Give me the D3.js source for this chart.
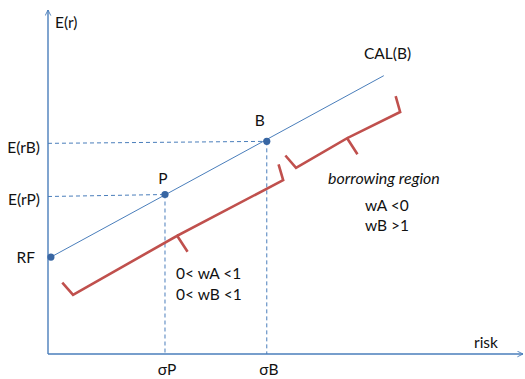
<!DOCTYPE html>
<html>
<head>
<meta charset="utf-8">
<script src="https://cdn.jsdelivr.net/npm/d3@7"></script>
<style>
  body { margin: 0; background: #fff; }
  text { font-family: Lato, "Open Sans", sans-serif; font-size: 15.5px; fill: #111; }
</style>
</head>
<body>
<div id="chart"></div>
<script>
// portfolio points: [risk, expected return]
const riskFree = [0.25, 3.1];
const portP = [10, 5.1];
const portB = [18.7, 6.8];
const calEnd = [28.7, 8.9];
const pointNames = ["RF", "P", "B"];

// bracket corners along the CAL (lending part / borrowing part)
const lendingBracket = [[2.14, 1.89], [20.1, 5.56]];
const borrowingBracket = [[21.2, 5.95], [30.1, 7.74]];

const yTickLabels = ["E(rB)", "E(rP)", "RF"];
const xTickLabels = ["σP", "σB"];

const width = 525, height = 379;
const blue = "#4a7ebb", red = "#c0504d", dot = "#3866a3";

const svg = d3.select("#chart").append("svg")
    .attr("width", width)
    .attr("height", height);

// scales
const x = d3.scaleLinear().domain([0, 40.6]).range([48, 523]);
const y = d3.scaleLinear().domain([0, 11]).range([354, 10]);

// arrow marker
svg.append("defs").append("marker")
    .attr("id", "arr")
    .attr("viewBox", "0 0 10 10")
    .attr("refX", 9).attr("refY", 5)
    .attr("markerWidth", 7).attr("markerHeight", 7)
    .attr("markerUnits", "userSpaceOnUse")
    .attr("orient", "auto")
    .append("path")
    .attr("d", "M1,1 L9,5 L1,9")
    .attr("fill", "none")
    .attr("stroke", blue)
    .attr("stroke-width", 1.3);

// axes
svg.append("line")
    .attr("x1", x(0)).attr("y1", y(0))
    .attr("x2", x(0)).attr("y2", y(11))
    .attr("stroke", blue).attr("stroke-width", 1.4)
    .attr("marker-end", "url(#arr)");
svg.append("line")
    .attr("x1", x(0)).attr("y1", y(0))
    .attr("x2", x(40.6)).attr("y2", y(0))
    .attr("stroke", blue).attr("stroke-width", 1.4)
    .attr("marker-end", "url(#arr)");

// dashed guides
const guides = [portP, portB];
guides.forEach(function(p) {
    svg.append("line")
        .attr("x1", x(0)).attr("y1", y(p[1]) + 2)
        .attr("x2", x(p[0])).attr("y2", y(p[1]))
        .attr("stroke", blue).attr("stroke-width", 1)
        .attr("stroke-dasharray", "4,3");
    svg.append("line")
        .attr("x1", x(p[0])).attr("y1", y(p[1]))
        .attr("x2", x(p[0])).attr("y2", y(0))
        .attr("stroke", blue).attr("stroke-width", 1)
        .attr("stroke-dasharray", "4,3");
});

// capital allocation line
svg.append("path")
    .datum([riskFree, calEnd])
    .attr("fill", "none")
    .attr("stroke", blue)
    .attr("stroke-width", 1)
    .attr("d", d3.line()
        .x(function(d) { return x(d[0]); })
        .y(function(d) { return y(d[1]); }));

// brackets (brace shape, hooks toward the line, nub away)
function brace(c) {
    const a = [x(c[0][0]), y(c[0][1])], b = [x(c[1][0]), y(c[1][1])];
    const dx = b[0] - a[0], dy = b[1] - a[1];
    const len = Math.hypot(dx, dy);
    const u = [dx / len, dy / len];
    const n = [u[1], -u[0]]; // points up toward the line
    const h = 16, s = 3.5, k = 19;
    const m = [(a[0] + b[0]) / 2 + n[0] * 2, (a[1] + b[1]) / 2 + n[1] * 2];
    return [
        [a[0] + n[0] * h - u[0] * s, a[1] + n[1] * h - u[1] * s],
        a, m,
        [m[0] - n[0] * k + u[0] * 1.5, m[1] - n[1] * k + u[1] * 1.5],
        m, b,
        [b[0] + n[0] * h + u[0] * s, b[1] + n[1] * h + u[1] * s]
    ];
}
[lendingBracket, borrowingBracket].forEach(function(c) {
    svg.append("path")
        .datum(brace(c))
        .attr("fill", "none")
        .attr("stroke", red)
        .attr("stroke-width", 2.6)
        .attr("stroke-linejoin", "miter")
        .attr("d", d3.line());
});

// points
const pts = [riskFree, portP, portB];
svg.selectAll("circle.pt")
    .data(pts)
    .enter()
    .append("circle")
    .attr("class", "pt")
    .attr("cx", function(d) { return x(d[0]); })
    .attr("cy", function(d) { return y(d[1]); })
    .attr("r", 3.6)
    .attr("fill", dot);

// point labels
svg.append("text").attr("x", x(portP[0]) - 2).attr("y", y(portP[1]) - 11)
    .attr("text-anchor", "middle").text(pointNames[1]);
svg.append("text").attr("x", x(portB[0]) - 7).attr("y", y(portB[1]) - 15)
    .attr("text-anchor", "middle").text(pointNames[2]);

// y labels
const yLab = [portB[1], portP[1], riskFree[1]];
svg.selectAll("text.ylab")
    .data(yTickLabels)
    .enter()
    .append("text")
    .attr("class", "ylab")
    .attr("x", function(d, i) { return i == 2 ? 35 : 40; })
    .attr("y", function(d, i) { return y(yLab[i]) + (i == 0 ? 12 : (i == 1 ? 10 : 6)); })
    .attr("text-anchor", "end")
    .text(function(d) { return d; });

// x labels
const xLab = [portP[0], portB[0]];
svg.selectAll("text.xlab")
    .data(xTickLabels)
    .enter()
    .append("text")
    .attr("class", "xlab")
    .attr("x", function(d, i) { return x(xLab[i]) + 2; })
    .attr("y", 375)
    .attr("text-anchor", "middle")
    .text(function(d) { return d; });

// axis titles and annotations
svg.append("text").attr("x", 55).attr("y", 28).text("E(r)");
svg.append("text").attr("x", 474).attr("y", 348).text("risk");
svg.append("text").attr("x", 364).attr("y", 59).text("CAL(B)");
svg.append("text").attr("x", 328).attr("y", 184)
    .style("font-style", "italic").style("font-size", "16px").text("borrowing region");
svg.append("text").attr("x", 365).attr("y", 211).text("wA <0");
svg.append("text").attr("x", 365).attr("y", 231).text("wB >1");
svg.append("text").attr("x", 176).attr("y", 279).text("0< wA <1");
svg.append("text").attr("x", 176).attr("y", 300).text("0< wB <1");
</script>
</body>
</html>
